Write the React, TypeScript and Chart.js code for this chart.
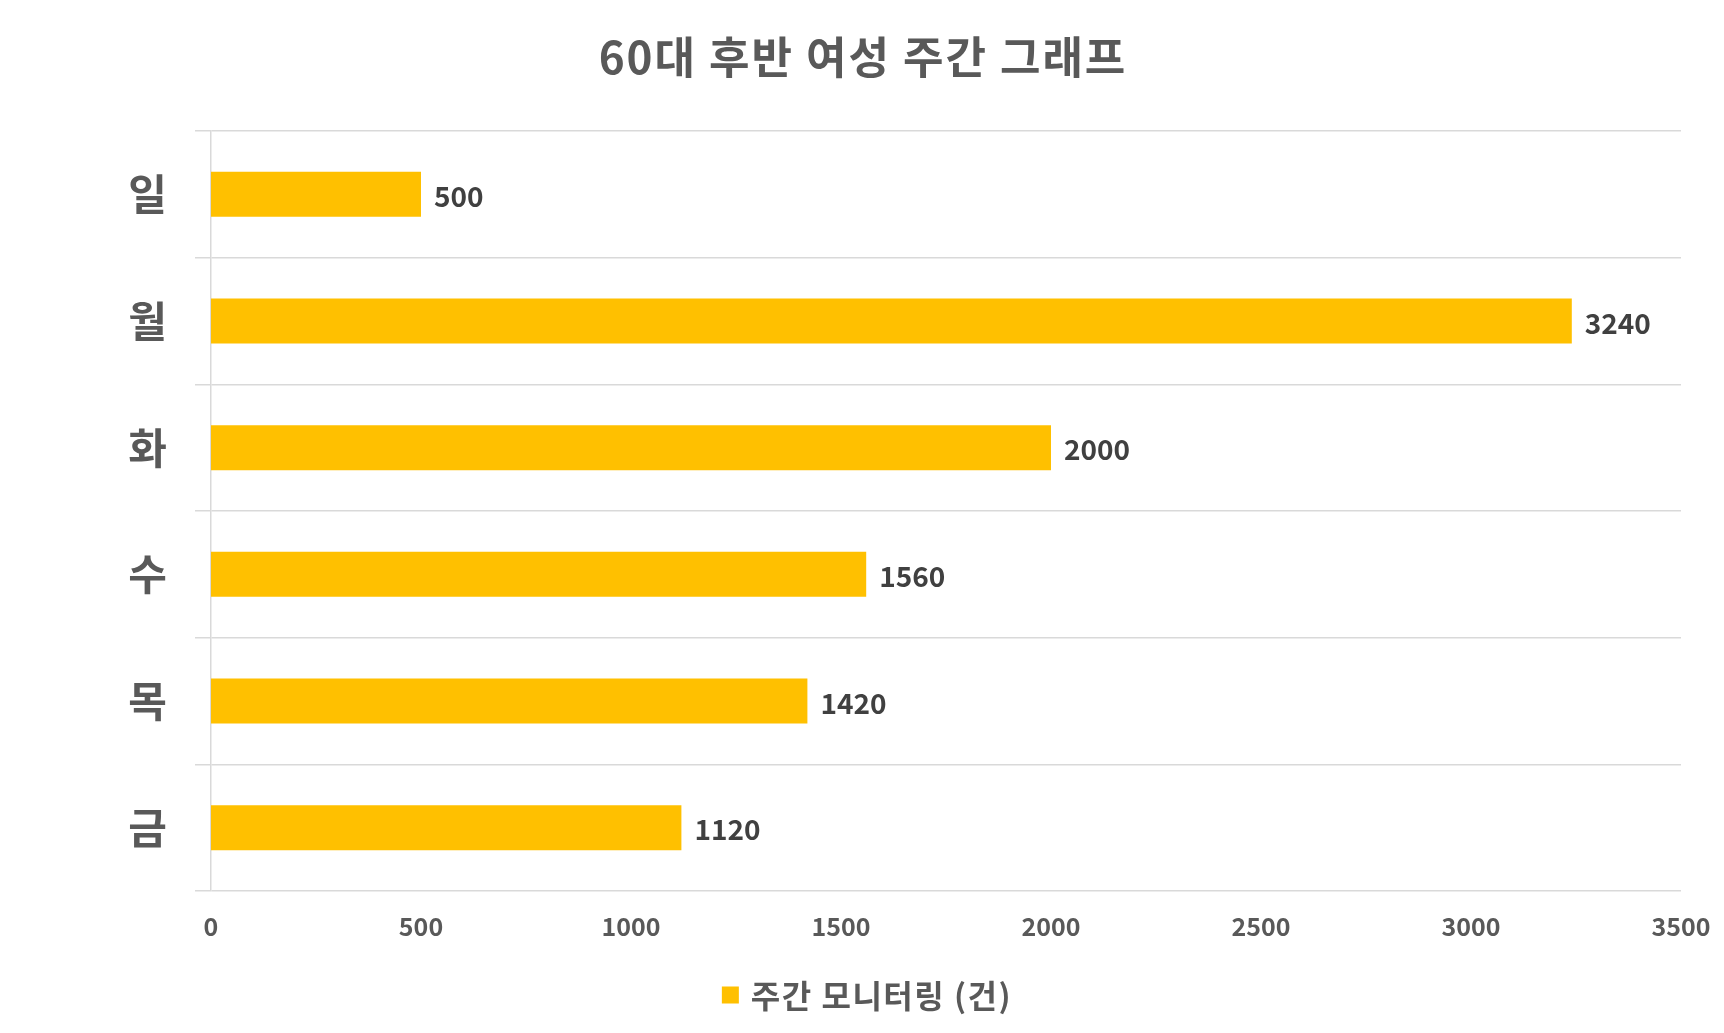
import React, { useEffect, useRef } from "react";
import { Chart, registerables } from "chart.js";

Chart.register(...registerables);

const TITLE = "60대 후반 여성 주간 그래프";
const SERIES_LABEL = "주간 모니터링 (건)";
const CATEGORIES = ["일", "월", "화", "수", "목", "금"];
const VALUES = [500, 3240, 2000, 1560, 1420, 1120];
const X_MIN = 0;
const X_MAX = 3500;
const X_STEP = 500;

const FONT = "'Noto Sans CJK KR', 'Noto Sans', sans-serif";
const BAR_COLOR = "#FFC000";
const GRID_COLOR = "#D9D9D9";
const TEXT_COLOR = "#595959";
const LABEL_COLOR = "#404040";

const valueLabels = {
  id: "valueLabels",
  afterDatasetsDraw(chart: any) {
    const ctx = chart.ctx;
    const meta = chart.getDatasetMeta(0);
    const data = chart.data.datasets[0].data;
    ctx.save();
    ctx.font = `bold 28px ${FONT}`;
    ctx.fillStyle = LABEL_COLOR;
    ctx.textAlign = "left";
    ctx.textBaseline = "middle";
    meta.data.forEach((el: any, i: number) => {
      ctx.fillText(String(data[i]), el.x + 13, el.y + 2);
    });
    ctx.restore();
  },
};

const titleAndLegend = {
  id: "titleAndLegend",
  afterDraw(chart: any) {
    const ctx = chart.ctx;
    const cx = chart.width / 2;
    ctx.save();
    // title
    ctx.font = `bold 44px ${FONT}`;
    (ctx as any).letterSpacing = "2px";
    ctx.fillStyle = TEXT_COLOR;
    ctx.textAlign = "center";
    ctx.textBaseline = "middle";
    ctx.fillText(TITLE, cx + 1, 57);
    // legend
    ctx.font = `bold 32px ${FONT}`;
    (ctx as any).letterSpacing = "1.5px";
    const label = chart.data.datasets[0].label;
    const tw = ctx.measureText(label).width;
    const box = 17;
    const gap = 12;
    const total = box + gap + tw;
    const x0 = cx + 5 - total / 2;
    const yc = 995;
    ctx.fillStyle = chart.data.datasets[0].backgroundColor;
    ctx.fillRect(x0, yc - box / 2, box, box);
    ctx.fillStyle = TEXT_COLOR;
    ctx.textAlign = "left";
    ctx.fillText(label, x0 + box + gap, yc + 1);
    ctx.restore();
  },
};

export default function App() {
  const ref = useRef<HTMLCanvasElement | null>(null);
  useEffect(() => {
    if (!ref.current) return;
    const chart = new Chart(ref.current, {
      type: "bar",
      data: {
        labels: CATEGORIES,
        datasets: [
          {
            label: SERIES_LABEL,
            data: VALUES,
            backgroundColor: BAR_COLOR,
            borderWidth: 0,
            categoryPercentage: 1,
            barPercentage: 0.355,
          },
        ],
      },
      options: {
        indexAxis: "y",
        responsive: false,
        animation: false,
        layout: { padding: { left: 0, right: 43, top: 131, bottom: 62 } },
        scales: {
          x: {
            min: X_MIN,
            max: X_MAX,
            grid: { display: false },
            border: { display: false },
            ticks: {
              stepSize: X_STEP,
              color: TEXT_COLOR,
              font: { family: FONT, size: 25, weight: "bold" },
              padding: 12,
              callback: (v: any) => String(v),
            },
            afterFit(scale: any) {
              scale.height = 80;
              scale.paddingLeft = 0;
              scale.paddingRight = 0;
            },
          },
          y: {
            grid: {
              color: GRID_COLOR,
              lineWidth: 1.5,
              offset: true,
              tickLength: 16,
              drawTicks: true,
            },
            border: { display: true, color: GRID_COLOR, width: 1.5 },
            ticks: {
              color: TEXT_COLOR,
              font: { family: FONT, size: 42, weight: "bold" },
              padding: 28,
            },
            afterFit(scale: any) {
              scale.width = 211;
              scale.paddingTop = 0;
              scale.paddingBottom = 0;
            },
          },
        },
        plugins: {
          title: { display: false },
          legend: { display: false },
          tooltip: { enabled: false },
        },
      },
      plugins: [valueLabels, titleAndLegend],
    } as any);
    return () => chart.destroy();
  }, []);
  return (
    <div style={{ position: "absolute", left: 0, top: 0, width: 1724, height: 1033, background: "#fff" }}>
      <canvas ref={ref} width={1724} height={1033} />
    </div>
  );
}
